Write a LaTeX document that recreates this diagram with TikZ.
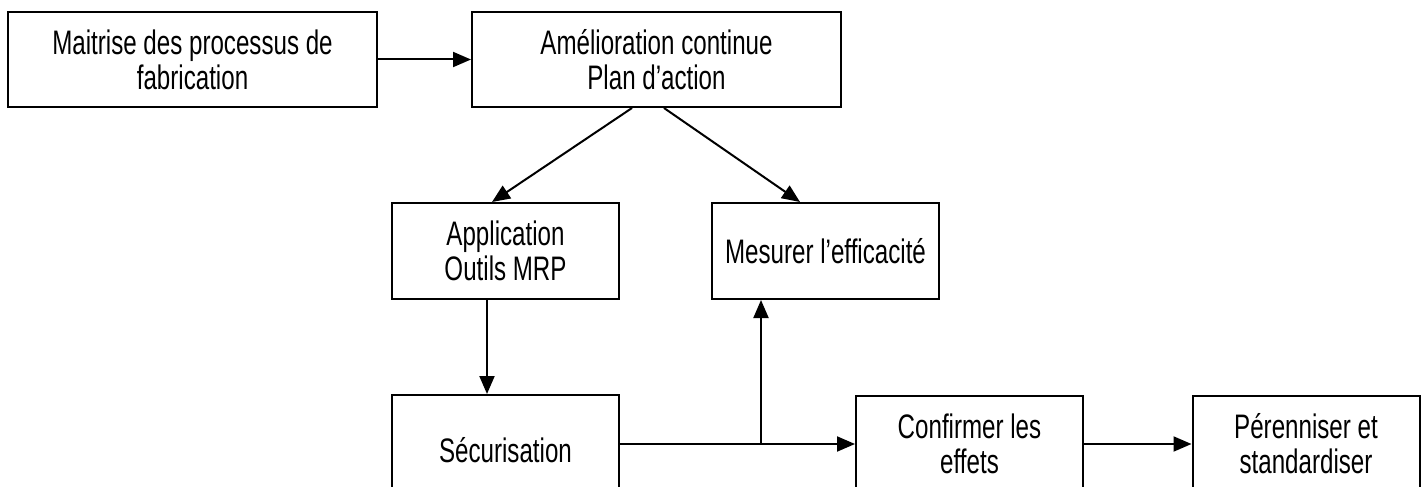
\documentclass[tikz,border=0pt]{standalone}
\usepackage{fontspec}
\setmainfont{Liberation Sans}[FakeStretch=0.71]
\usetikzlibrary{arrows.meta}

\begin{document}
\begin{tikzpicture}[x=1pt, y=-1pt, >={Triangle[length=18pt,width=15pt]},
  etape/.style={draw, line width=2pt, align=center, inner sep=0pt,
    font=\fontsize{34}{35}\selectfont},
  fleche/.style={->, line width=2pt}]
\clip (0,0) rectangle (1424,487);
\node[etape, minimum width=369pt, minimum height=95pt] (maitrise) at (192.5,59.5) {Maitrise des processus de\\fabrication};
\node[etape, minimum width=369pt, minimum height=95pt] (amelio) at (656.5,59.5) {Amélioration continue\\Plan d’action};
\node[etape, minimum width=227pt, minimum height=96pt] (appli) at (505.5,251) {Application\\Outils MRP};
\node[etape, minimum width=227pt, minimum height=96pt] (mesure) at (825.5,251) {Mesurer l’efficacité};
\node[etape, minimum width=227pt, minimum height=110pt] (secur) at (505.5,450) {Sécurisation};
\node[etape, minimum width=227pt, minimum height=96pt] (confirm) at (969.5,444) {Confirmer les\\effets};
\node[etape, minimum width=227pt, minimum height=96pt] (perenn) at (1306,444) {Pérenniser et\\standardiser};
\coordinate (jonction) at (761,444);
\draw[fleche] (maitrise.east) -- (amelio.west);
\draw[fleche] ([xshift=-24.5pt]amelio.south) -- ([xshift=-13.5pt]appli.north);
\draw[fleche] ([xshift=7.5pt]amelio.south) -- ([xshift=-25.5pt]mesure.north);
\draw[fleche] ([xshift=-18.5pt]appli.south) -- ([xshift=-18.5pt]secur.north);
\draw[fleche] (secur.east |- confirm.west) -- (confirm.west);
\draw[fleche] (jonction) -- (jonction |- mesure.south);
\draw[fleche] (confirm.east) -- (perenn.west);
\end{tikzpicture}
\end{document}
